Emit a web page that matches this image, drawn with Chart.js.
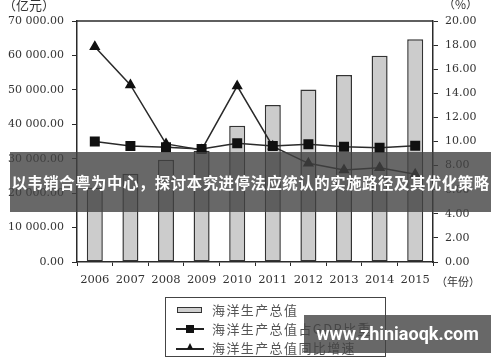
<!DOCTYPE html>
<html>
<head>
<meta charset="utf-8">
<script src="https://cdn.jsdelivr.net/npm/chart.js@4.4.0/dist/chart.umd.min.js"></script>
<style>
  body { margin: 0; background: #fff; }
  #wrap { position: relative; width: 500px; height: 362px; overflow: hidden; }
  .txt { position: absolute; font-family: "Noto Sans CJK SC", sans-serif; color: #333; white-space: nowrap; }
  .legend { position: absolute; left: 165px; top: 297px; width: 221px; height: 60px; border: 1.2px solid #444; box-sizing: border-box; }
  .leg-row { position: absolute; left: 0; height: 18px; width: 100%; }
  .leg-text { position: absolute; left: 46px; top: 0; line-height: 18px; font-family: "Noto Sans CJK SC", sans-serif; font-size: 13px; letter-spacing: 1.4px; color: #555; }
  .banner { position: absolute; background: rgba(66, 66, 66, 0.8); color: #fff; font-weight: bold; text-align: center; white-space: nowrap; }
</style>
</head>
<body>
<div id="wrap">
  <canvas id="oceanChart" width="500" height="362"></canvas>

  <div class="txt" style="left:3px;top:-5px;font-size:13px;">（亿元）</div>
  <div class="txt" style="left:443px;top:-5px;font-size:12px;">（%）</div>
  <div class="txt" style="left:436px;top:273px;font-size:11px;line-height:16px;">（年份）</div>

  <div class="legend">
    <div class="leg-row" style="top:3px;">
      <div style="position:absolute;left:11px;top:6px;width:25px;height:6px;border:1.5px solid #333;background:#cfcfcf;box-sizing:border-box;"></div>
      <div class="leg-text">海洋生产总值</div>
    </div>
    <div class="leg-row" style="top:22px;">
      <div style="position:absolute;left:10px;top:8px;width:28px;height:1.5px;background:#222;"></div>
      <div style="position:absolute;left:20px;top:5px;width:8px;height:8px;background:#111;"></div>
      <div class="leg-text">海洋生产总值占GDP比重</div>
    </div>
    <div class="leg-row" style="top:41px;">
      <div style="position:absolute;left:10px;top:9px;width:28px;height:1.5px;background:#222;"></div>
      <div style="position:absolute;left:20.5px;top:4px;width:0;height:0;border-left:3.5px solid transparent;border-right:3.5px solid transparent;border-bottom:6px solid #111;"></div>
      <div class="leg-text">海洋生产总值同比增速</div>
    </div>
  </div>

  <div class="banner" style="left:10px;top:152px;width:481px;height:60px;line-height:60px;font-family:'Noto Sans CJK SC',sans-serif;font-size:15.4px;letter-spacing:0.55px;">以韦销合粤为中心，探讨本究进停法应统认的实施路径及其优化策略</div>
  <div class="banner" style="left:304px;top:315px;width:187px;height:38px;line-height:38px;font-family:Roboto,sans-serif;font-size:18px;">www.zhiniaoqk.com</div>
</div>

<script>
// 中国海洋生产总值 2006-2015
const years = ['2006', '2007', '2008', '2009', '2010', '2011', '2012', '2013', '2014', '2015'];
const oceanGdp = [21592, 25618, 29718, 32278, 39572, 45580, 50087, 54313, 59936, 64669];
const gdpShare = [10.0, 9.63, 9.52, 9.38, 9.85, 9.63, 9.77, 9.57, 9.49, 9.65];
const growthRate = [17.87, 14.69, 9.8, 9.3, 14.6, 9.6, 8.19, 7.63, 7.83, 7.28];

const axisFont = { family: 'DejaVu Serif', size: 11 };
const ink = '#2a2a2a';

// thousands with a space, two decimals: 70 000.00
function fmtYuan(v) {
  const s = Math.round(v).toString().replace(/\B(?=(\d{3})+(?!\d))/g, ' ');
  return s + '.00';
}

const topBorder = {
  id: 'topBorder',
  afterDatasetsDraw(chart) {
    const { ctx, chartArea } = chart;
    ctx.save();
    ctx.strokeStyle = ink;
    ctx.lineWidth = 1.5;
    ctx.beginPath();
    ctx.moveTo(chartArea.left, chartArea.top);
    ctx.lineTo(chartArea.right, chartArea.top);
    ctx.stroke();
    ctx.restore();
  }
};

const ctx = document.getElementById('oceanChart').getContext('2d');
const oceanChart = new Chart(ctx, {
  data: {
    labels: years,
    datasets: [{
      type: 'line',
      label: '海洋生产总值占GDP比重',
      data: gdpShare,
      yAxisID: 'y1',
      borderColor: ink,
      borderWidth: 1.5,
      pointStyle: 'rect',
      pointRadius: 6,
      pointBackgroundColor: '#111',
      pointBorderColor: '#111',
      order: 1
    }, {
      type: 'line',
      label: '海洋生产总值同比增速',
      data: growthRate,
      yAxisID: 'y1',
      borderColor: ink,
      borderWidth: 1.5,
      pointStyle: 'triangle',
      pointRadius: 5,
      pointBackgroundColor: '#111',
      pointBorderColor: '#111',
      order: 2
    }, {
      type: 'bar',
      label: '海洋生产总值',
      data: oceanGdp,
      yAxisID: 'y',
      backgroundColor: '#cccccc',
      borderColor: '#333',
      borderWidth: 1.5,
      borderSkipped: false,
      categoryPercentage: 1,
      barPercentage: 0.45,
      order: 3
    }]
  },
  options: {
    responsive: false,
    animation: false,
    layout: { padding: { top: 21, left: 0, right: 0, bottom: 0 } },
    plugins: {
      legend: { display: false },
      tooltip: { enabled: false }
    },
    scales: {
      x: {
        offset: true,
        grid: { display: true, offset: true, drawOnChartArea: false, tickLength: 4, color: ink },
        border: { display: true, color: ink, width: 1.5 },
        ticks: { font: { family: 'DejaVu Serif', size: 11.5 }, color: '#333', padding: 7, maxRotation: 0 },
        afterFit(scale) { scale.height = 100; }
      },
      y: {
        position: 'left',
        min: 0,
        max: 70000,
        grid: { display: true, drawOnChartArea: false, tickLength: 5, color: ink },
        border: { display: true, color: ink, width: 1.5 },
        ticks: { stepSize: 10000, font: axisFont, color: '#333', padding: 8, callback: fmtYuan },
        afterFit(scale) { scale.width = 77; }
      },
      y1: {
        position: 'right',
        min: 0,
        max: 20,
        grid: { display: true, drawOnChartArea: false, tickLength: 5, color: ink },
        border: { display: true, color: ink, width: 1.5 },
        ticks: { stepSize: 2, font: axisFont, color: '#333', padding: 7, callback: v => v.toFixed(2) },
        afterFit(scale) { scale.width = 67; }
      }
    }
  },
  plugins: [topBorder]
});
</script>
</body>
</html>
